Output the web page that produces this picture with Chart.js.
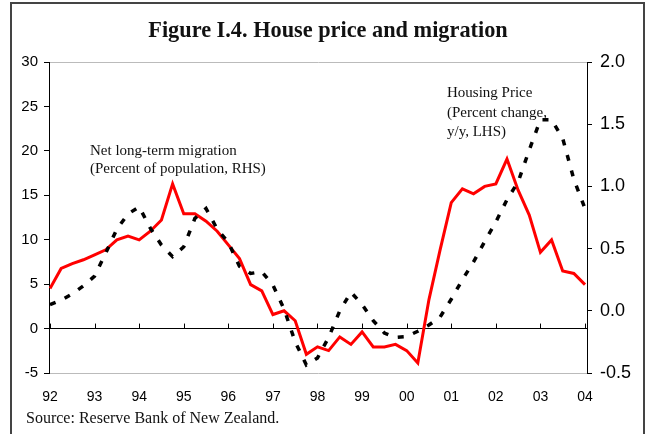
<!DOCTYPE html>
<html>
<head>
<meta charset="utf-8">
<script src="https://cdn.jsdelivr.net/npm/chart.js@4.4.0/dist/chart.umd.min.js"></script>
<style>
  body { margin: 0; background: #fff; overflow: hidden; }
  #wrap { position: relative; width: 649px; height: 434px; overflow: hidden; }
  #frame { position: absolute; left: 10px; top: 2px; width: 631px; height: 500px; border: 2px solid #444; }
  .txt { position: absolute; font-family: "Liberation Serif", "Times New Roman", serif; color: #111; white-space: nowrap; }
  #title { left: 0; width: 656px; top: 17px; text-align: center; font-weight: bold; font-size: 22.3px; line-height: 26px; }
  #noteMig { left: 90px; top: 141px; font-size: 15px; line-height: 18px; }
  #noteHouse { left: 447px; top: 83px; font-size: 15px; line-height: 19.5px; }
  #source { left: 26px; top: 409px; font-size: 16px; line-height: 18px; }
</style>
</head>
<body>
<div id="wrap">
  <div id="frame"></div>
  <canvas id="myChart" width="649" height="434"></canvas>
  <div class="txt" id="title">Figure I.4. House price and migration</div>
  <div class="txt" id="noteMig">Net long-term migration<br>(Percent of population, RHS)</div>
  <div class="txt" id="noteHouse">Housing Price<br>(Percent change,<br>y/y, LHS)</div>
  <div class="txt" id="source">Source: Reserve Bank of New Zealand.</div>
</div>
<script>
// quarterly, 1992Q1 .. 2004Q1
const yearLabels = ['92','93','94','95','96','97','98','99','00','01','02','03','04']

// net long-term migration, percent of population (RHS)
const migration = [
  0.18, 0.34, 0.38, 0.41, 0.45, 0.49, 0.57, 0.60, 0.57, 0.64, 0.73, 1.02,
  0.78, 0.78, 0.72, 0.64, 0.53, 0.42, 0.21, 0.16, -0.03, 0.00, -0.08, -0.35,
  -0.29, -0.32, -0.21, -0.27, -0.17, -0.29, -0.29, -0.27, -0.32, -0.42, 0.09, 0.49,
  0.87, 0.98, 0.94, 1.00, 1.02, 1.22, 0.97, 0.77, 0.47, 0.57, 0.32, 0.30, 0.21
]

// housing price, percent change y/y (LHS)
const housePrice = [
  2.7, 3.2, 3.9, 4.8, 5.9, 8.5, 11.2, 12.9, 13.7, 11.3, 9.4, 8.1,
  9.2, 12.4, 13.5, 11.2, 9.7, 7.0, 6.2, 6.4, 4.9, 2.2, -1.5, -4.1,
  -3.3, -1.0, 2.0, 4.1, 2.7, 0.9, -0.5, -1.0, -0.9, -0.3, 0.4, 1.3,
  3.3, 5.5, 7.5, 9.8, 12.0, 14.5, 16.5, 20.1, 23.5, 23.5, 21.4, 16.8, 13.5
]

const leftTicks = [30, 25, 20, 15, 10, 5, 0, -5]
const rightTicks = [2.0, 1.5, 1.0, 0.5, 0.0, -0.5]

function toPoints(arr) {
  return arr.map((v, i) => ({ x: i, y: v }))
}

// small year tick marks sitting on the zero line
const zeroTicks = {
  id: 'zeroTicks',
  beforeDatasetsDraw(chart) {
    const c = chart.ctx
    const xs = chart.scales.x
    const y0 = chart.scales.y.getPixelForValue(0)
    c.save()
    c.strokeStyle = '#000'
    c.lineWidth = 1
    yearLabels.forEach((lab, i) => {
      const px = Math.round(xs.getPixelForValue(i * 4)) + 0.5
      c.beginPath()
      c.moveTo(px, y0)
      c.lineTo(px, y0 - 5)
      c.stroke()
    })
    c.restore()
  }
}

const ctx = document.getElementById('myChart')
new Chart(ctx, {
  type: 'line',
  data: {
    datasets: [{
      label: 'Housing Price',
      data: toPoints(housePrice),
      yAxisID: 'y',
      borderColor: '#000',
      borderWidth: 3.5,
      borderDash: [6, 10],
      pointRadius: 0,
      tension: 0
    }, {
      label: 'Net long-term migration',
      data: toPoints(migration),
      yAxisID: 'y1',
      borderColor: '#ff0000',
      borderWidth: 3,
      pointRadius: 0,
      tension: 0
    }]
  },
  options: {
    responsive: false,
    animation: false,
    layout: { padding: { top: 62, left: 0, right: 0, bottom: 0 } },
    plugins: {
      legend: { display: false },
      tooltip: { enabled: false }
    },
    scales: {
      x: {
        type: 'linear',
        min: -0.09,
        max: 48.18,
        afterFit(s) { s.height = 61 },
        afterBuildTicks(s) { s.ticks = yearLabels.map((lab, i) => ({ value: i * 4 })) },
        grid: { display: false },
        border: { display: true, color: '#bbb', width: 1 },
        ticks: {
          autoSkip: false,
          maxRotation: 0,
          padding: 8,
          color: '#000',
          font: { family: 'Liberation Sans, Arial, sans-serif', size: 14 },
          callback: (v) => yearLabels[Math.round(v / 4)]
        }
      },
      y: {
        position: 'left',
        min: -5,
        max: 30,
        afterFit(s) { s.width = 49 },
        afterBuildTicks(s) { s.ticks = leftTicks.map(v => ({ value: v })) },
        border: { color: '#000', width: 1 },
        grid: {
          tickLength: 5,
          tickColor: '#000',
          color: (c) => c.tick.value === 0 ? '#000' : (c.tick.value === 30 ? '#bbb' : 'rgba(0,0,0,0)')
        },
        ticks: {
          padding: 6,
          color: '#000',
          font: { family: 'Liberation Sans, Arial, sans-serif', size: 15 }
        }
      },
      y1: {
        position: 'right',
        min: -0.5,
        max: 2.0,
        afterFit(s) { s.width = 62 },
        afterBuildTicks(s) { s.ticks = rightTicks.map(v => ({ value: v })) },
        border: { color: '#000', width: 1 },
        grid: { drawOnChartArea: false, tickLength: 5, tickColor: '#000' },
        ticks: {
          padding: 8,
          color: '#000',
          font: { family: 'Liberation Sans, Arial, sans-serif', size: 18 },
          callback: (v) => Number(v).toFixed(1)
        }
      }
    }
  },
  plugins: [zeroTicks]
})
</script>
</body>
</html>
